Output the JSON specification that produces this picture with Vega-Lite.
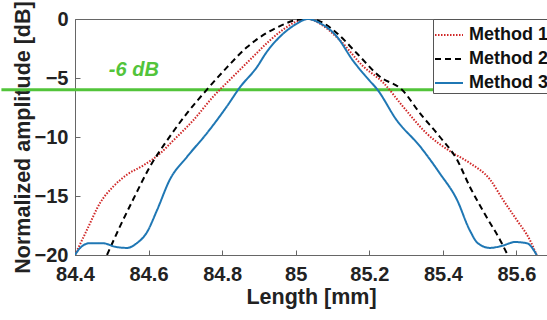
{
  "$schema": "https://vega.github.io/schema/vega-lite/v6.json",
  "width": 472,
  "height": 236,
  "autosize": "none",
  "padding": {"left": 75, "top": 19, "right": 0, "bottom": 65},
  "background": "white",
  "config": {
    "view": {"stroke": "#666", "strokeWidth": 1},
    "font": "Liberation Sans",
    "axis": {
      "grid": false,
      "domainColor": "#666",
      "tickColor": "#666",
      "labelFont": "Liberation Sans",
      "labelFontWeight": "bold",
      "labelFontSize": 20,
      "labelColor": "#222",
      "titleFont": "Liberation Sans",
      "titleFontWeight": "bold",
      "titleFontSize": 21.5,
      "titleColor": "#222"
    },
    "legend": {
      "orient": "none",
      "legendX": 358,
      "legendY": 0,
      "fillColor": "white",
      "strokeColor": "#555",
      "padding": 1,
      "symbolType": "stroke",
      "symbolSize": 784,
      "symbolStrokeWidth": 2,
      "labelFont": "Liberation Sans",
      "labelFontWeight": "bold",
      "labelFontSize": 18,
      "labelColor": "#111",
      "labelOffset": 5,
      "rowPadding": -4,
      "labelLimit": 300
    }
  },
  "datasets": {
    "curves": [
      {"x": 84.4, "y": -20, "method": "Method 1"},
      {"x": 84.432, "y": -17.9, "method": "Method 1"},
      {"x": 84.468, "y": -15.6, "method": "Method 1"},
      {"x": 84.504, "y": -14.2, "method": "Method 1"},
      {"x": 84.541, "y": -13.2, "method": "Method 1"},
      {"x": 84.586, "y": -12.4, "method": "Method 1"},
      {"x": 84.631, "y": -11.4, "method": "Method 1"},
      {"x": 84.667, "y": -10.3, "method": "Method 1"},
      {"x": 84.721, "y": -8.6, "method": "Method 1"},
      {"x": 84.775, "y": -6.6, "method": "Method 1"},
      {"x": 84.829, "y": -4.9, "method": "Method 1"},
      {"x": 84.884, "y": -3.2, "method": "Method 1"},
      {"x": 84.93, "y": -1.8, "method": "Method 1"},
      {"x": 84.97, "y": -0.8, "method": "Method 1"},
      {"x": 85.0, "y": -0.25, "method": "Method 1"},
      {"x": 85.035, "y": 0, "method": "Method 1"},
      {"x": 85.066, "y": -0.4, "method": "Method 1"},
      {"x": 85.12, "y": -1.8, "method": "Method 1"},
      {"x": 85.183, "y": -4.0, "method": "Method 1"},
      {"x": 85.238, "y": -5.4, "method": "Method 1"},
      {"x": 85.291, "y": -7.4, "method": "Method 1"},
      {"x": 85.356, "y": -9.7, "method": "Method 1"},
      {"x": 85.419, "y": -11.2, "method": "Method 1"},
      {"x": 85.473, "y": -12.2, "method": "Method 1"},
      {"x": 85.528, "y": -13.6, "method": "Method 1"},
      {"x": 85.563, "y": -15.3, "method": "Method 1"},
      {"x": 85.6, "y": -17.0, "method": "Method 1"},
      {"x": 85.636, "y": -18.7, "method": "Method 1"},
      {"x": 85.655, "y": -20, "method": "Method 1"},

      {"x": 84.487, "y": -20, "method": "Method 2"},
      {"x": 84.522, "y": -17.6, "method": "Method 2"},
      {"x": 84.558, "y": -15.3, "method": "Method 2"},
      {"x": 84.604, "y": -12.5, "method": "Method 2"},
      {"x": 84.65, "y": -10.3, "method": "Method 2"},
      {"x": 84.704, "y": -8.0, "method": "Method 2"},
      {"x": 84.758, "y": -6.0, "method": "Method 2"},
      {"x": 84.813, "y": -4.1, "method": "Method 2"},
      {"x": 84.867, "y": -2.4, "method": "Method 2"},
      {"x": 84.92, "y": -1.2, "method": "Method 2"},
      {"x": 84.957, "y": -0.6, "method": "Method 2"},
      {"x": 85.0, "y": -0.1, "method": "Method 2"},
      {"x": 85.035, "y": 0, "method": "Method 2"},
      {"x": 85.066, "y": -0.2, "method": "Method 2"},
      {"x": 85.112, "y": -1.2, "method": "Method 2"},
      {"x": 85.166, "y": -2.9, "method": "Method 2"},
      {"x": 85.229, "y": -4.9, "method": "Method 2"},
      {"x": 85.289, "y": -6.0, "method": "Method 2"},
      {"x": 85.338, "y": -8.0, "method": "Method 2"},
      {"x": 85.392, "y": -10.0, "method": "Method 2"},
      {"x": 85.438, "y": -11.9, "method": "Method 2"},
      {"x": 85.473, "y": -14.2, "method": "Method 2"},
      {"x": 85.519, "y": -16.8, "method": "Method 2"},
      {"x": 85.555, "y": -18.7, "method": "Method 2"},
      {"x": 85.576, "y": -20, "method": "Method 2"},

      {"x": 84.4, "y": -20, "method": "Method 3"},
      {"x": 84.414, "y": -19.4, "method": "Method 3"},
      {"x": 84.44, "y": -19.0, "method": "Method 3"},
      {"x": 84.476, "y": -19.0, "method": "Method 3"},
      {"x": 84.509, "y": -19.3, "method": "Method 3"},
      {"x": 84.541, "y": -19.4, "method": "Method 3"},
      {"x": 84.568, "y": -19.0, "method": "Method 3"},
      {"x": 84.595, "y": -18.1, "method": "Method 3"},
      {"x": 84.623, "y": -16.2, "method": "Method 3"},
      {"x": 84.658, "y": -13.6, "method": "Method 3"},
      {"x": 84.704, "y": -11.7, "method": "Method 3"},
      {"x": 84.758, "y": -9.7, "method": "Method 3"},
      {"x": 84.813, "y": -7.4, "method": "Method 3"},
      {"x": 84.848, "y": -5.8, "method": "Method 3"},
      {"x": 84.894, "y": -4.1, "method": "Method 3"},
      {"x": 84.921, "y": -2.8, "method": "Method 3"},
      {"x": 84.957, "y": -1.5, "method": "Method 3"},
      {"x": 85.0, "y": -0.45, "method": "Method 3"},
      {"x": 85.033, "y": 0, "method": "Method 3"},
      {"x": 85.066, "y": -0.35, "method": "Method 3"},
      {"x": 85.112, "y": -1.5, "method": "Method 3"},
      {"x": 85.155, "y": -3.5, "method": "Method 3"},
      {"x": 85.2, "y": -5.2, "method": "Method 3"},
      {"x": 85.22, "y": -5.9, "method": "Method 3"},
      {"x": 85.275, "y": -8.6, "method": "Method 3"},
      {"x": 85.338, "y": -10.8, "method": "Method 3"},
      {"x": 85.392, "y": -13.1, "method": "Method 3"},
      {"x": 85.438, "y": -15.3, "method": "Method 3"},
      {"x": 85.473, "y": -17.9, "method": "Method 3"},
      {"x": 85.495, "y": -19.0, "method": "Method 3"},
      {"x": 85.528, "y": -19.4, "method": "Method 3"},
      {"x": 85.563, "y": -19.2, "method": "Method 3"},
      {"x": 85.596, "y": -18.9, "method": "Method 3"},
      {"x": 85.628, "y": -19.0, "method": "Method 3"},
      {"x": 85.655, "y": -20, "method": "Method 3"}
    ],
    "threshold": [{"x1": 84.2, "x2": 85.7, "y": -6, "label": "-6 dB", "lx": 84.56, "ly": -4.3}]
  },
  "layer": [
    {
      "data": {"name": "threshold"},
      "mark": {"type": "rule", "color": "#52c43a", "strokeWidth": 3, "clip": false},
      "encoding": {
        "x": {"field": "x1", "type": "quantitative"},
        "x2": {"field": "x2"},
        "y": {"field": "y", "type": "quantitative"}
      }
    },
    {
      "data": {"name": "threshold"},
      "mark": {"type": "text", "color": "#52c43a", "font": "Liberation Sans", "fontSize": 20, "fontWeight": "bold", "fontStyle": "italic", "align": "center", "baseline": "middle"},
      "encoding": {
        "x": {"field": "lx", "type": "quantitative"},
        "y": {"field": "ly", "type": "quantitative"},
        "text": {"field": "label"}
      }
    },
    {
      "data": {"name": "curves"},
      "mark": {"type": "line", "strokeWidth": 2, "clip": true, "interpolate": "monotone"},
      "encoding": {
        "x": {
          "field": "x", "type": "quantitative",
          "scale": {"domain": [84.4, 85.683], "nice": false, "zero": false},
          "axis": {"values": [84.4, 84.6, 84.8, 85, 85.2, 85.4, 85.6], "format": ".1~f", "title": "Length [mm]", "tickSize": -5, "labelPadding": 14, "titlePadding": 2, "labelFlush": false}
        },
        "y": {
          "field": "y", "type": "quantitative",
          "scale": {"domain": [-20, 0], "nice": false, "zero": false},
          "axis": {"values": [-20, -15, -10, -5, 0], "title": "Normalized amplitude [dB]", "tickSize": -5, "labelPadding": 12, "titlePadding": 0, "labelFlush": false}
        },
        "color": {
          "field": "method", "type": "nominal",
          "scale": {"domain": ["Method 1", "Method 2", "Method 3"], "range": ["#d02828", "#000000", "#1f77b4"]},
          "legend": {"title": null}
        },
        "strokeDash": {
          "field": "method", "type": "nominal",
          "scale": {"domain": ["Method 1", "Method 2", "Method 3"], "range": [[1.5, 1.5], [6, 4], [1, 0]]},
          "legend": {"title": null}
        }
      }
    }
  ]
}
